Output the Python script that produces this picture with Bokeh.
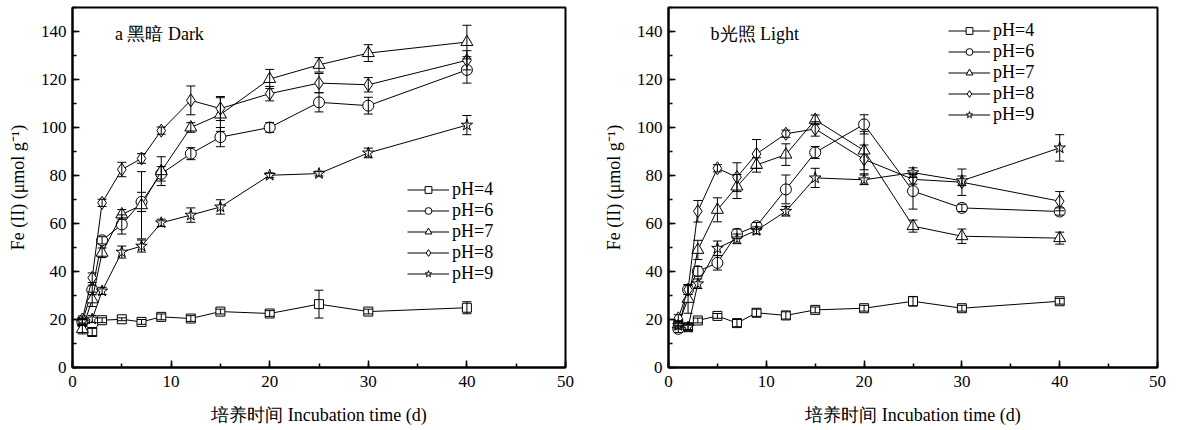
from bokeh.plotting import figure
from bokeh.layouts import row
from bokeh.models import (ColumnDataSource, Whisker, TeeHead, Range1d, SingleIntervalTicker,
                          Label, Legend, LegendItem)
from bokeh.embed import file_html
from bokeh.resources import INLINE

# ---------------- data ----------------
days = [1, 2, 3, 5, 7, 9, 12, 15, 20, 25, 30, 40]
series_names = ["pH=4", "pH=6", "pH=7", "pH=8", "pH=9"]

dark_ph4 = [19, 14.8, 19.7, 20.1, 19.0, 21.1, 20.4, 23.3, 22.5, 26.4, 23.3, 24.9]
dark_ph4_err = [1, 1.5, 1, 0.6, 1, 1.2, 1.2, 1, 1.2, 5.8, 1, 2.5]
dark_ph6 = [19, 32.3, 53, 59.6, 69, 80.7, 89.1, 96, 100, 110.5, 109.1, 124]
dark_ph6_err = [1.5, 2, 1.5, 4, 4, 3, 2.5, 4, 2, 4, 3.5, 5.5]
dark_ph7 = [16, 28.4, 47.8, 63.8, 67.6, 81.8, 100, 105.4, 120.2, 126.1, 131, 135.6]
dark_ph7_err = [2, 3, 2, 2, 14, 6, 2, 7, 4, 3, 3.5, 7]
dark_ph8 = [20, 37.4, 68.6, 82.5, 87.1, 98.7, 111.3, 107.9, 114.1, 118.5, 117.8, 128]
dark_ph8_err = [1.5, 2, 1.5, 3, 2, 1.5, 6, 5, 3, 4, 3, 4]
dark_ph9 = [19, 20.2, 31.9, 48.1, 50.6, 60.3, 63.5, 66.9, 80.1, 80.8, 89.4, 101]
dark_ph9_err = [1.5, 1.5, 1.5, 2.5, 2.5, 1.5, 3, 3, 1, 1, 2, 4]

light_ph4 = [18.2, 16.8, 19.6, 21.5, 18.5, 22.8, 21.7, 24, 24.7, 27.6, 24.7, 27.6]
light_ph4_err = [1, 1, 1, 1, 1.5, 1.5, 1.5, 1.2, 1.2, 2, 1.2, 1.2]
light_ph6 = [16.1, 32.4, 40.1, 43.6, 55.7, 58.9, 74.2, 89.6, 101.3, 73.5, 66.5, 65]
light_ph6_err = [1.5, 2, 2, 3, 2, 1.5, 6, 2.5, 4, 7.5, 1.5, 1.5]
light_ph7 = [18, 28.6, 49, 65.7, 75.4, 84.4, 88.7, 103.2, 90.4, 58.9, 54.7, 53.9]
light_ph7_err = [1.5, 6, 4, 5, 5, 3, 4.5, 2, 8, 2.5, 3, 2.5]
light_ph8 = [20.5, 32.4, 65.1, 83, 79.3, 89, 97.4, 99.4, 86.7, 78.4, 77.2, 69.3]
light_ph8_err = [1.5, 2, 4.5, 1.5, 6, 6, 1.5, 3, 6, 2, 5.5, 4]
light_ph9 = [17.5, 16.8, 34.9, 49.7, 53.6, 57.1, 65.1, 79, 78.2, 81.2, 77.8, 91.5]
light_ph9_err = [1.5, 1.5, 2, 3, 2, 1.5, 2, 4, 2, 2, 2, 5.5]

dark_values = [dark_ph4, dark_ph6, dark_ph7, dark_ph8, dark_ph9]
dark_errors = [dark_ph4_err, dark_ph6_err, dark_ph7_err, dark_ph8_err, dark_ph9_err]
light_values = [light_ph4, light_ph6, light_ph7, light_ph8, light_ph9]
light_errors = [light_ph4_err, light_ph6_err, light_ph7_err, light_ph8_err, light_ph9_err]

x_label = "培养时间 Incubation time (d)"
y_label = "Fe (II) (μmol g⁻¹)"
panel_titles = ["a 黑暗 Dark", "b光照 Light"]

# ---------------- styling ----------------
FONT = "Liberation Serif"
markers = ["square", "circle", "triangle", "diamond", "star"]
msizes = [9, 11, 12, 13, 12]
legend_msizes = [7, 8, 9, 10, 9]
NAN = float("nan")


def make_panel(values, errors, title, width, border_left, border_right, legend_loc):
    p = figure(width=width, height=430, output_backend="svg",
               toolbar_location=None, x_range=Range1d(0, 50), y_range=Range1d(0, 150),
               min_border_left=border_left, min_border_right=border_right,
               min_border_top=7, min_border_bottom=63)
    p.background_fill_color = "white"
    p.border_fill_color = "white"
    p.grid.visible = False
    p.outline_line_color = "black"
    p.outline_line_width = 2
    p.xaxis.ticker = SingleIntervalTicker(interval=10, num_minor_ticks=2)
    p.yaxis.ticker = SingleIntervalTicker(interval=20, num_minor_ticks=2)
    for ax in (p.xaxis, p.yaxis):
        ax.axis_line_width = 2
        ax.axis_line_color = "black"
        ax.major_tick_in = 7
        ax.major_tick_out = 0
        ax.minor_tick_in = 4
        ax.minor_tick_out = 0
        ax.major_tick_line_width = 1.5
        ax.minor_tick_line_width = 1.5
        ax.major_label_text_font = FONT
        ax.major_label_text_font_size = "17px"
        ax.major_label_text_color = "black"
        ax.axis_label_text_font = FONT
        ax.axis_label_text_font_size = "18px"
        ax.axis_label_text_font_style = "normal"
        ax.axis_label_text_color = "black"
    p.xaxis.axis_label = x_label
    p.yaxis.axis_label = y_label
    p.xaxis.major_label_standoff = 8
    p.yaxis.major_label_standoff = 6
    p.xaxis.axis_label_standoff = 15
    p.yaxis.axis_label_standoff = 10

    items = []
    for name, vals, errs, mk, ms, lms in zip(series_names, values, errors, markers,
                                              msizes, legend_msizes):
        src = ColumnDataSource(dict(x=days, y=vals,
                                    upper=[v + e for v, e in zip(vals, errs)],
                                    lower=[v - e for v, e in zip(vals, errs)]))
        p.line("x", "y", source=src, line_color="black", line_width=1)
        p.scatter("x", "y", source=src, marker=mk, size=ms, fill_color="white",
                  line_color="black", line_width=1)
        w = Whisker(source=src, base="x", upper="upper", lower="lower",
                    line_color="black", line_width=1, level="overlay",
                    upper_head=TeeHead(size=9, line_color="black", line_width=1),
                    lower_head=TeeHead(size=9, line_color="black", line_width=1))
        p.add_layout(w)
        # legend-only renderers (no visible data) with smaller markers, as in the original key
        empty = ColumnDataSource(dict(x=[NAN], y=[NAN]))
        llr = p.line("x", "y", source=empty, line_color="black", line_width=1)
        lsr = p.scatter("x", "y", source=empty, marker=mk, size=lms, fill_color="white",
                        line_color="black", line_width=1)
        items.append(LegendItem(label=name, renderers=[llr, lsr]))

    leg = Legend(items=items, location=legend_loc)
    leg.glyph_width = 42
    leg.glyph_height = 17
    leg.label_height = 21
    leg.spacing = 0
    leg.padding = 0
    leg.margin = 0
    leg.label_standoff = 3
    leg.border_line_color = None
    leg.background_fill_alpha = 0
    leg.label_text_font = FONT
    leg.label_text_font_size = "18px"
    leg.label_text_color = "black"
    p.add_layout(leg)

    p.add_layout(Label(x=4.3, y=139, text=title, text_font=FONT, text_font_size="18px",
                       text_baseline="middle", text_color="black"))
    return p


p1 = make_panel(dark_values, dark_errors, panel_titles[0], 600, 72, 35, (335, 83))
p2 = make_panel(light_values, light_errors, panel_titles[1], 573, 67, 16, (280, 242))

layout = row(p1, p2, spacing=0)
open("out.html", "w").write(file_html(layout, INLINE))
